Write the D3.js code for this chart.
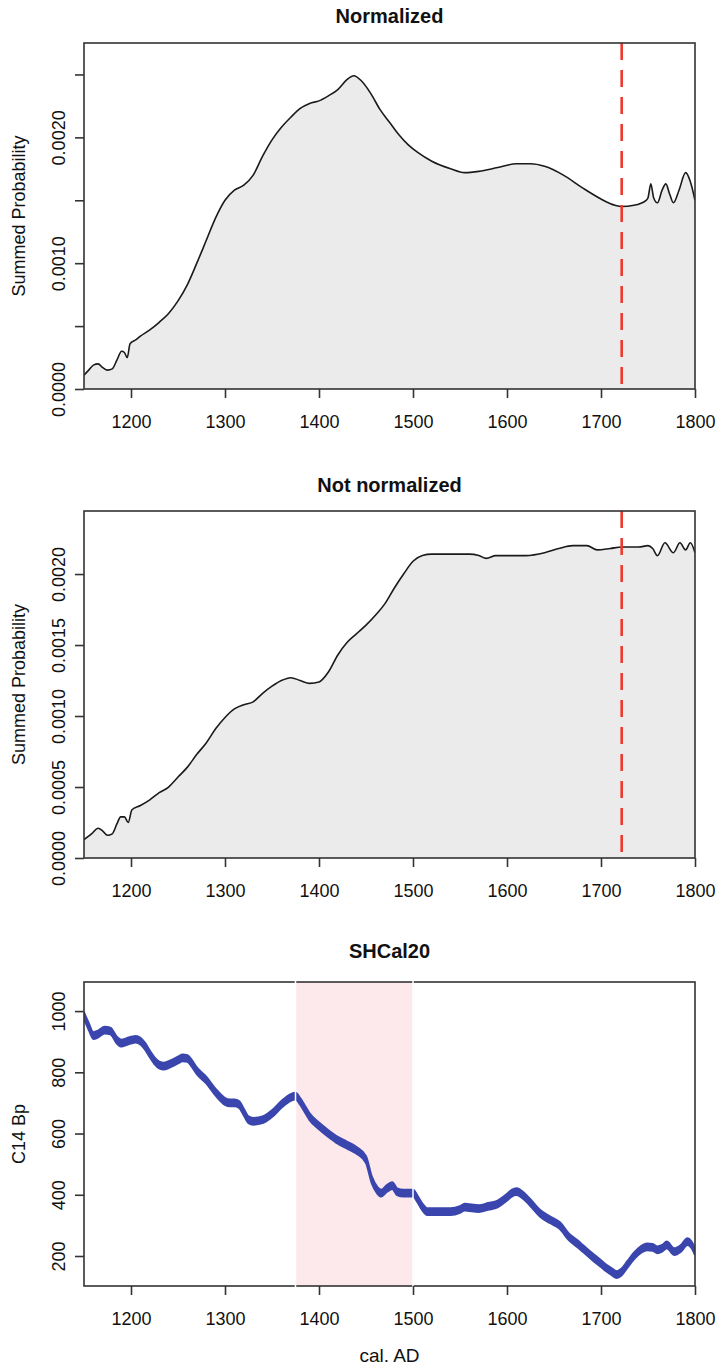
<!DOCTYPE html>
<html>
<head>
<meta charset="utf-8">
<script src="https://cdn.jsdelivr.net/npm/d3@7"></script>
<style>
    body { margin: 0; background: #fff; }
    svg { display: block; font-family: "Liberation Sans", Arial, Helvetica, sans-serif; }
</style>
</head>
<body>
<div id="chart"></div>
<script>
// years on the x axis, ticks and data
var xTicks = [1200, 1300, 1400, 1500, 1600, 1700, 1800]
var cutYear = 1722                 // red dashed line
var bandYears = [1375, 1500]       // pink band on SHCal20

var normYears = [1150, 1155, 1160, 1165, 1170, 1175, 1180, 1185, 1190, 1193, 1196, 1199, 1205, 1210, 1220, 1230, 1240, 1250, 1260, 1270, 1280, 1290, 1300, 1310, 1320, 1330, 1340, 1350, 1360, 1370, 1380, 1390, 1400, 1410, 1420, 1430, 1437, 1445, 1455, 1465, 1475, 1485, 1495, 1505, 1520, 1540, 1555, 1570, 1590, 1610, 1625, 1640, 1660, 1680, 1700, 1715, 1722, 1735, 1748, 1750, 1753, 1756, 1760, 1765, 1769, 1773, 1777, 1783, 1790, 1795, 1800]
var normValues = [0.00011, 0.00015, 0.00019, 0.0002, 0.00017, 0.00015, 0.00016, 0.00023, 0.0003, 0.00029, 0.00025, 0.00036, 0.00039, 0.00042, 0.00047, 0.00053, 0.0006, 0.0007, 0.00083, 0.001, 0.00118, 0.00136, 0.0015, 0.00158, 0.00162, 0.0017, 0.00185, 0.00198, 0.00208, 0.00216, 0.00223, 0.00227, 0.00229, 0.00233, 0.00238, 0.00246, 0.00249, 0.00245, 0.00235, 0.00222, 0.00212, 0.00202, 0.00194, 0.00188, 0.00181, 0.00175, 0.00172, 0.00173, 0.00176, 0.00179, 0.00179, 0.00177, 0.0017, 0.0016, 0.00151, 0.00146, 0.00145, 0.00146, 0.0015, 0.00152, 0.00163, 0.00152, 0.00148, 0.00158, 0.00163, 0.00155, 0.00148, 0.00158, 0.00172, 0.00165, 0.0015]

var rawYears = [1150, 1158, 1165, 1170, 1175, 1180, 1185, 1189, 1193, 1197, 1201, 1210, 1220, 1230, 1240, 1250, 1260, 1270, 1280, 1290, 1300, 1310, 1320, 1330, 1340, 1350, 1360, 1370, 1380, 1390, 1400, 1410, 1420, 1430, 1440, 1450, 1460, 1470, 1480, 1490, 1500, 1510, 1520, 1530, 1560, 1570, 1578, 1588, 1600, 1620, 1640, 1655, 1670, 1685, 1696, 1710, 1722, 1740, 1750, 1755, 1760, 1768, 1777, 1784, 1790, 1795, 1800]
var rawValues = [0.00013, 0.00017, 0.00021, 0.00019, 0.00016, 0.00017, 0.00024, 0.00029, 0.00029, 0.00025, 0.00034, 0.00037, 0.00041, 0.00046, 0.0005, 0.00057, 0.00064, 0.00073, 0.00081, 0.00091, 0.00099, 0.00105, 0.00108, 0.0011, 0.00116, 0.00121, 0.00125, 0.00127, 0.00125, 0.00123, 0.00124, 0.00131, 0.00143, 0.00152, 0.00158, 0.00164, 0.00171, 0.00179, 0.0019, 0.002, 0.00209, 0.00213, 0.00214, 0.00214, 0.00214, 0.00213, 0.00211, 0.00213, 0.00213, 0.00213, 0.00215, 0.00218, 0.0022, 0.0022, 0.00217, 0.00218, 0.00219, 0.00219, 0.0022, 0.00218, 0.00213, 0.00222, 0.00215, 0.00222, 0.00217, 0.00222, 0.00215]

var calYears = [1150, 1155, 1160, 1165, 1172, 1178, 1185, 1190, 1195, 1200, 1205, 1210, 1215, 1220, 1225, 1230, 1235, 1240, 1245, 1250, 1255, 1260, 1265, 1270, 1280, 1290, 1300, 1305, 1310, 1315, 1320, 1325, 1330, 1340, 1350, 1360, 1370, 1375, 1380, 1385, 1390, 1400, 1410, 1420, 1430, 1440, 1450, 1456, 1462, 1466, 1472, 1478, 1483, 1490, 1500, 1505, 1510, 1515, 1520, 1530, 1540, 1550, 1555, 1560, 1570, 1580, 1590, 1600, 1605, 1610, 1620, 1627, 1635, 1646, 1656, 1666, 1675, 1681, 1690, 1700, 1705, 1710, 1717, 1722, 1728, 1735, 1742, 1749, 1755, 1760, 1765, 1770, 1778, 1785, 1792, 1796, 1800]
var calValues = [985, 950, 920, 925, 938, 935, 905, 895, 900, 905, 908, 902, 885, 860, 838, 824, 820, 825, 832, 840, 847, 845, 828, 805, 775, 735, 705, 700, 700, 695, 670, 645, 640, 645, 665, 695, 718, 722, 705, 680, 655, 625, 600, 578, 562, 545, 515, 450, 415, 405, 420, 430, 410, 405, 405, 385, 360, 345, 345, 345, 345, 352, 360, 358, 355, 362, 370, 392, 405, 410, 390, 367, 340, 318, 300, 262, 240, 224, 200, 175, 162, 152, 139, 148, 172, 200, 220, 230, 228, 220, 225, 236, 214, 225, 247, 238, 214]
var calSigma = 11

var normTicks = [0, 0.0005, 0.001, 0.0015, 0.002, 0.0025]
var normLabels = ["0.0000", "", "0.0010", "", "0.0020", ""]
var rawTicks = [0, 0.0005, 0.001, 0.0015, 0.002]
var rawLabels = ["0.0000", "0.0005", "0.0010", "0.0015", "0.0020"]
var calTicks = [200, 400, 600, 800, 1000]
var calLabels = ["200", "400", "600", "800", "1000"]

var W = 717, H = 1369
var left = 84, right = 695
var svg = d3.select("#chart").append("svg").attr("width", W).attr("height", H)

var x = d3.scaleLinear().domain([1150, 1800]).range([left, right])

function drawPanel(p) {
    var y = d3.scaleLinear().domain(p.yDomain).range([p.bottom, p.top])
    var g = svg.append("g")
    var clipId = "clip" + p.id
    g.append("clipPath").attr("id", clipId).append("rect")
        .attr("x", left).attr("y", p.top).attr("width", right - left).attr("height", p.bottom - p.top)
    var plot = g.append("g").attr("clip-path", "url(#" + clipId + ")")
    var pts = p.years.map((d, i) => [d, p.values[i]])

    if (p.band) {
        plot.append("rect")
            .attr("x", x(p.band[0])).attr("width", x(p.band[1]) - x(p.band[0]))
            .attr("y", p.top).attr("height", p.bottom - p.top)
            .attr("fill", "#fde8ec")
    }
    if (p.kind == "sum") {
        plot.append("path").datum(pts)
            .attr("fill", "#ebebeb")
            .attr("d", d3.area().x(d => x(d[0])).y0(y(0)).y1(d => y(d[1])).curve(d3.curveMonotoneX))
        plot.append("path").datum(pts)
            .attr("fill", "none").attr("stroke", "#1a1a1a").attr("stroke-width", 1.6)
            .attr("d", d3.line().x(d => x(d[0])).y(d => y(d[1])).curve(d3.curveMonotoneX))
        plot.append("line")
            .attr("x1", x(cutYear)).attr("x2", x(cutYear))
            .attr("y1", p.top).attr("y2", p.bottom)
            .attr("stroke", "#ee3a2c").attr("stroke-width", 2.6).attr("stroke-dasharray", "17,10")
    } else {
        plot.append("path").datum(pts)
            .attr("fill", "#3a46ad").attr("stroke", "#3a46ad").attr("stroke-width", 2)
            .attr("d", d3.area().x(d => x(d[0])).y0(d => y(d[1] - calSigma)).y1(d => y(d[1] + calSigma)).curve(d3.curveMonotoneX))
    }

    // box
    g.append("rect").attr("x", left).attr("y", p.top).attr("width", right - left).attr("height", p.bottom - p.top)
        .attr("fill", "none").attr("stroke", "#333").attr("stroke-width", 1.6)
    if (p.band) {
        p.band.forEach(b => {
            g.append("line").attr("x1", x(b)).attr("x2", x(b)).attr("y1", p.top - 2).attr("y2", p.bottom + 2)
                .attr("stroke", "#fff").attr("stroke-width", 1.5)
        })
    }

    // x axis
    var xa = g.append("g").attr("transform", "translate(0," + p.bottom + ")")
        .call(d3.axisBottom(x).tickValues(xTicks).tickSize(9).tickSizeOuter(0).tickFormat(d3.format("d")).tickPadding(17))
    xa.select(".domain").remove()
    xa.selectAll("line").attr("stroke", "#333").attr("stroke-width", 1.6)
    xa.selectAll("text").attr("font-size", 18).attr("fill", "#111").attr("font-family", null)

    // y axis, labels rotated like base R
    var ya = g.append("g").attr("transform", "translate(" + left + ",0)")
        .call(d3.axisLeft(y).tickValues(p.ticks).tickSize(9).tickSizeOuter(0).tickFormat((d, i) => p.labels[i]))
    ya.select(".domain").remove()
    ya.selectAll("line").attr("stroke", "#333").attr("stroke-width", 1.6)
    ya.selectAll("text")
        .attr("font-size", 18).attr("fill", "#111").attr("font-family", null)
        .attr("x", null).attr("dy", null)
        .attr("text-anchor", "middle")
        .attr("transform", "translate(" + (65 - left) + ",0) rotate(-90)")

    svg.append("text").attr("x", (left + right) / 2).attr("y", p.titleY)
        .attr("text-anchor", "middle").attr("font-size", 20).attr("font-weight", "bold").attr("fill", "#111")
        .text(p.title)
    svg.append("text")
        .attr("transform", "translate(25," + (p.top + p.bottom) / 2 + ") rotate(-90)")
        .attr("text-anchor", "middle").attr("font-size", 18).attr("fill", "#111")
        .text(p.ylab)
}

drawPanel({ id: 1, kind: "sum", title: "Normalized", titleY: 23, top: 43, bottom: 389, yDomain: [0, 0.00275],
    years: normYears, values: normValues, ticks: normTicks, labels: normLabels, ylab: "Summed Probability" })
drawPanel({ id: 2, kind: "sum", title: "Not normalized", titleY: 492, top: 511, bottom: 858, yDomain: [0, 0.002444],
    years: rawYears, values: rawValues, ticks: rawTicks, labels: rawLabels, ylab: "Summed Probability" })
drawPanel({ id: 3, kind: "cal", title: "SHCal20", titleY: 958, top: 982, bottom: 1286, yDomain: [102, 1095],
    years: calYears, values: calValues, ticks: calTicks, labels: calLabels, ylab: "C14 Bp", band: bandYears })

svg.append("text").attr("x", (left + right) / 2).attr("y", 1362)
    .attr("text-anchor", "middle").attr("font-size", 19).attr("fill", "#111")
    .text("cal. AD")
</script>
</body>
</html>
